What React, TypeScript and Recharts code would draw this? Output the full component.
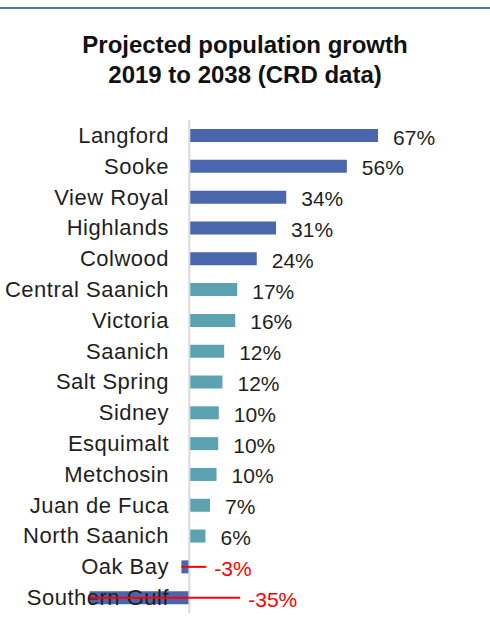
import React from 'react';
import { BarChart, Bar, XAxis, YAxis, Cell, LabelList, ReferenceLine } from 'recharts';

const categories = [
  'Langford',
  'Sooke',
  'View Royal',
  'Highlands',
  'Colwood',
  'Central Saanich',
  'Victoria',
  'Saanich',
  'Salt Spring',
  'Sidney',
  'Esquimalt',
  'Metchosin',
  'Juan de Fuca',
  'North Saanich',
  'Oak Bay',
  'Southern Gulf',
];

const growth = [66.6, 55.6, 34.2, 30.6, 23.8, 16.9, 16.2, 12.3, 11.7, 10.4, 10.2, 9.6, 7.3, 5.7, -2.8, -35.2];

const titleLines = ['Projected population growth', '2019 to 2038 (CRD data)'];

const xDomain: [number, number] = [-40, 80];

const data = categories.map((name, i) => ({ name, growth: growth[i] }));

const BLUE = '#4a66ac';
const TEAL = '#5ba3b0';
const RED = '#ff0000';
const TEXT = '#1f1f1f';
const FONT = '"Liberation Sans", Arial, sans-serif';

const CategoryTick = (props: any) => {
  const { y, payload } = props;
  return (
    <text
      x={169}
      y={y}
      dy={7.5}
      textAnchor="end"
      fontFamily={FONT}
      fontSize={22}
      letterSpacing={0.5}
      fill={TEXT}
    >
      {payload.value}
    </text>
  );
};

const ValueLabel = (props: any) => {
  const vb = props.viewBox ?? {};
  const x = Number(props.x ?? vb.x);
  const y = Number(props.y ?? vb.y);
  const w = Number(props.width ?? vb.width);
  const h = Number(props.height ?? vb.height);
  const v = Number(props.value);
  const left = Math.min(x, x + w);
  const right = Math.max(x, x + w);
  const cy = y + h / 2;
  const label = `${Math.round(v)}%`;
  if (v >= 0) {
    return (
      <text x={right + 15} y={cy + 9} fontFamily={FONT} fontSize={21} fill={TEXT}>
        {label}
      </text>
    );
  }
  const tx = right + 22 + (right - left) * 0.37;
  return (
    <g>
      <line x1={left} x2={tx - 8} y1={cy} y2={cy} stroke={RED} strokeWidth={2} />
      <text x={tx} y={cy + 9} fontFamily={FONT} fontSize={21} fill={RED}>
        {label}
      </text>
    </g>
  );
};

export default function App() {
  return (
    <div style={{ position: 'absolute', left: 0, top: 0, width: 490, height: 638, background: '#fff' }}>
      <BarChart
        width={490}
        height={638}
        data={data}
        layout="vertical"
        margin={{ top: 120, right: 74, bottom: 25, left: 0 }}
      >
        <XAxis type="number" domain={xDomain} hide />
        <YAxis
          type="category"
          dataKey="name"
          width={76}
          axisLine={false}
          tickLine={false}
          tick={<CategoryTick />}
          interval={0}
        />
        <Bar dataKey="growth" barSize={13} isAnimationActive={false}>
          {data.map((d, i) => (
            <Cell key={d.name} fill={i < 5 || d.growth < 0 ? BLUE : TEAL} />
          ))}
          <LabelList dataKey="growth" content={<ValueLabel />} />
        </Bar>
        <ReferenceLine x={0} stroke="#d9d9d9" strokeWidth={2} />
      </BarChart>
      <svg
        width={490}
        height={638}
        style={{ position: 'absolute', left: 0, top: 0, pointerEvents: 'none' }}
      >
        <rect x={0} y={7} width={490} height={2} fill="#5571b6" />
        {titleLines.map((t, i) => (
          <text
            key={t}
            x={245}
            y={53 + i * 29.5}
            textAnchor="middle"
            fontFamily={FONT}
            fontWeight="bold"
            fontSize={24}
            fill="#111"
          >
            {t}
          </text>
        ))}
      </svg>
    </div>
  );
}
